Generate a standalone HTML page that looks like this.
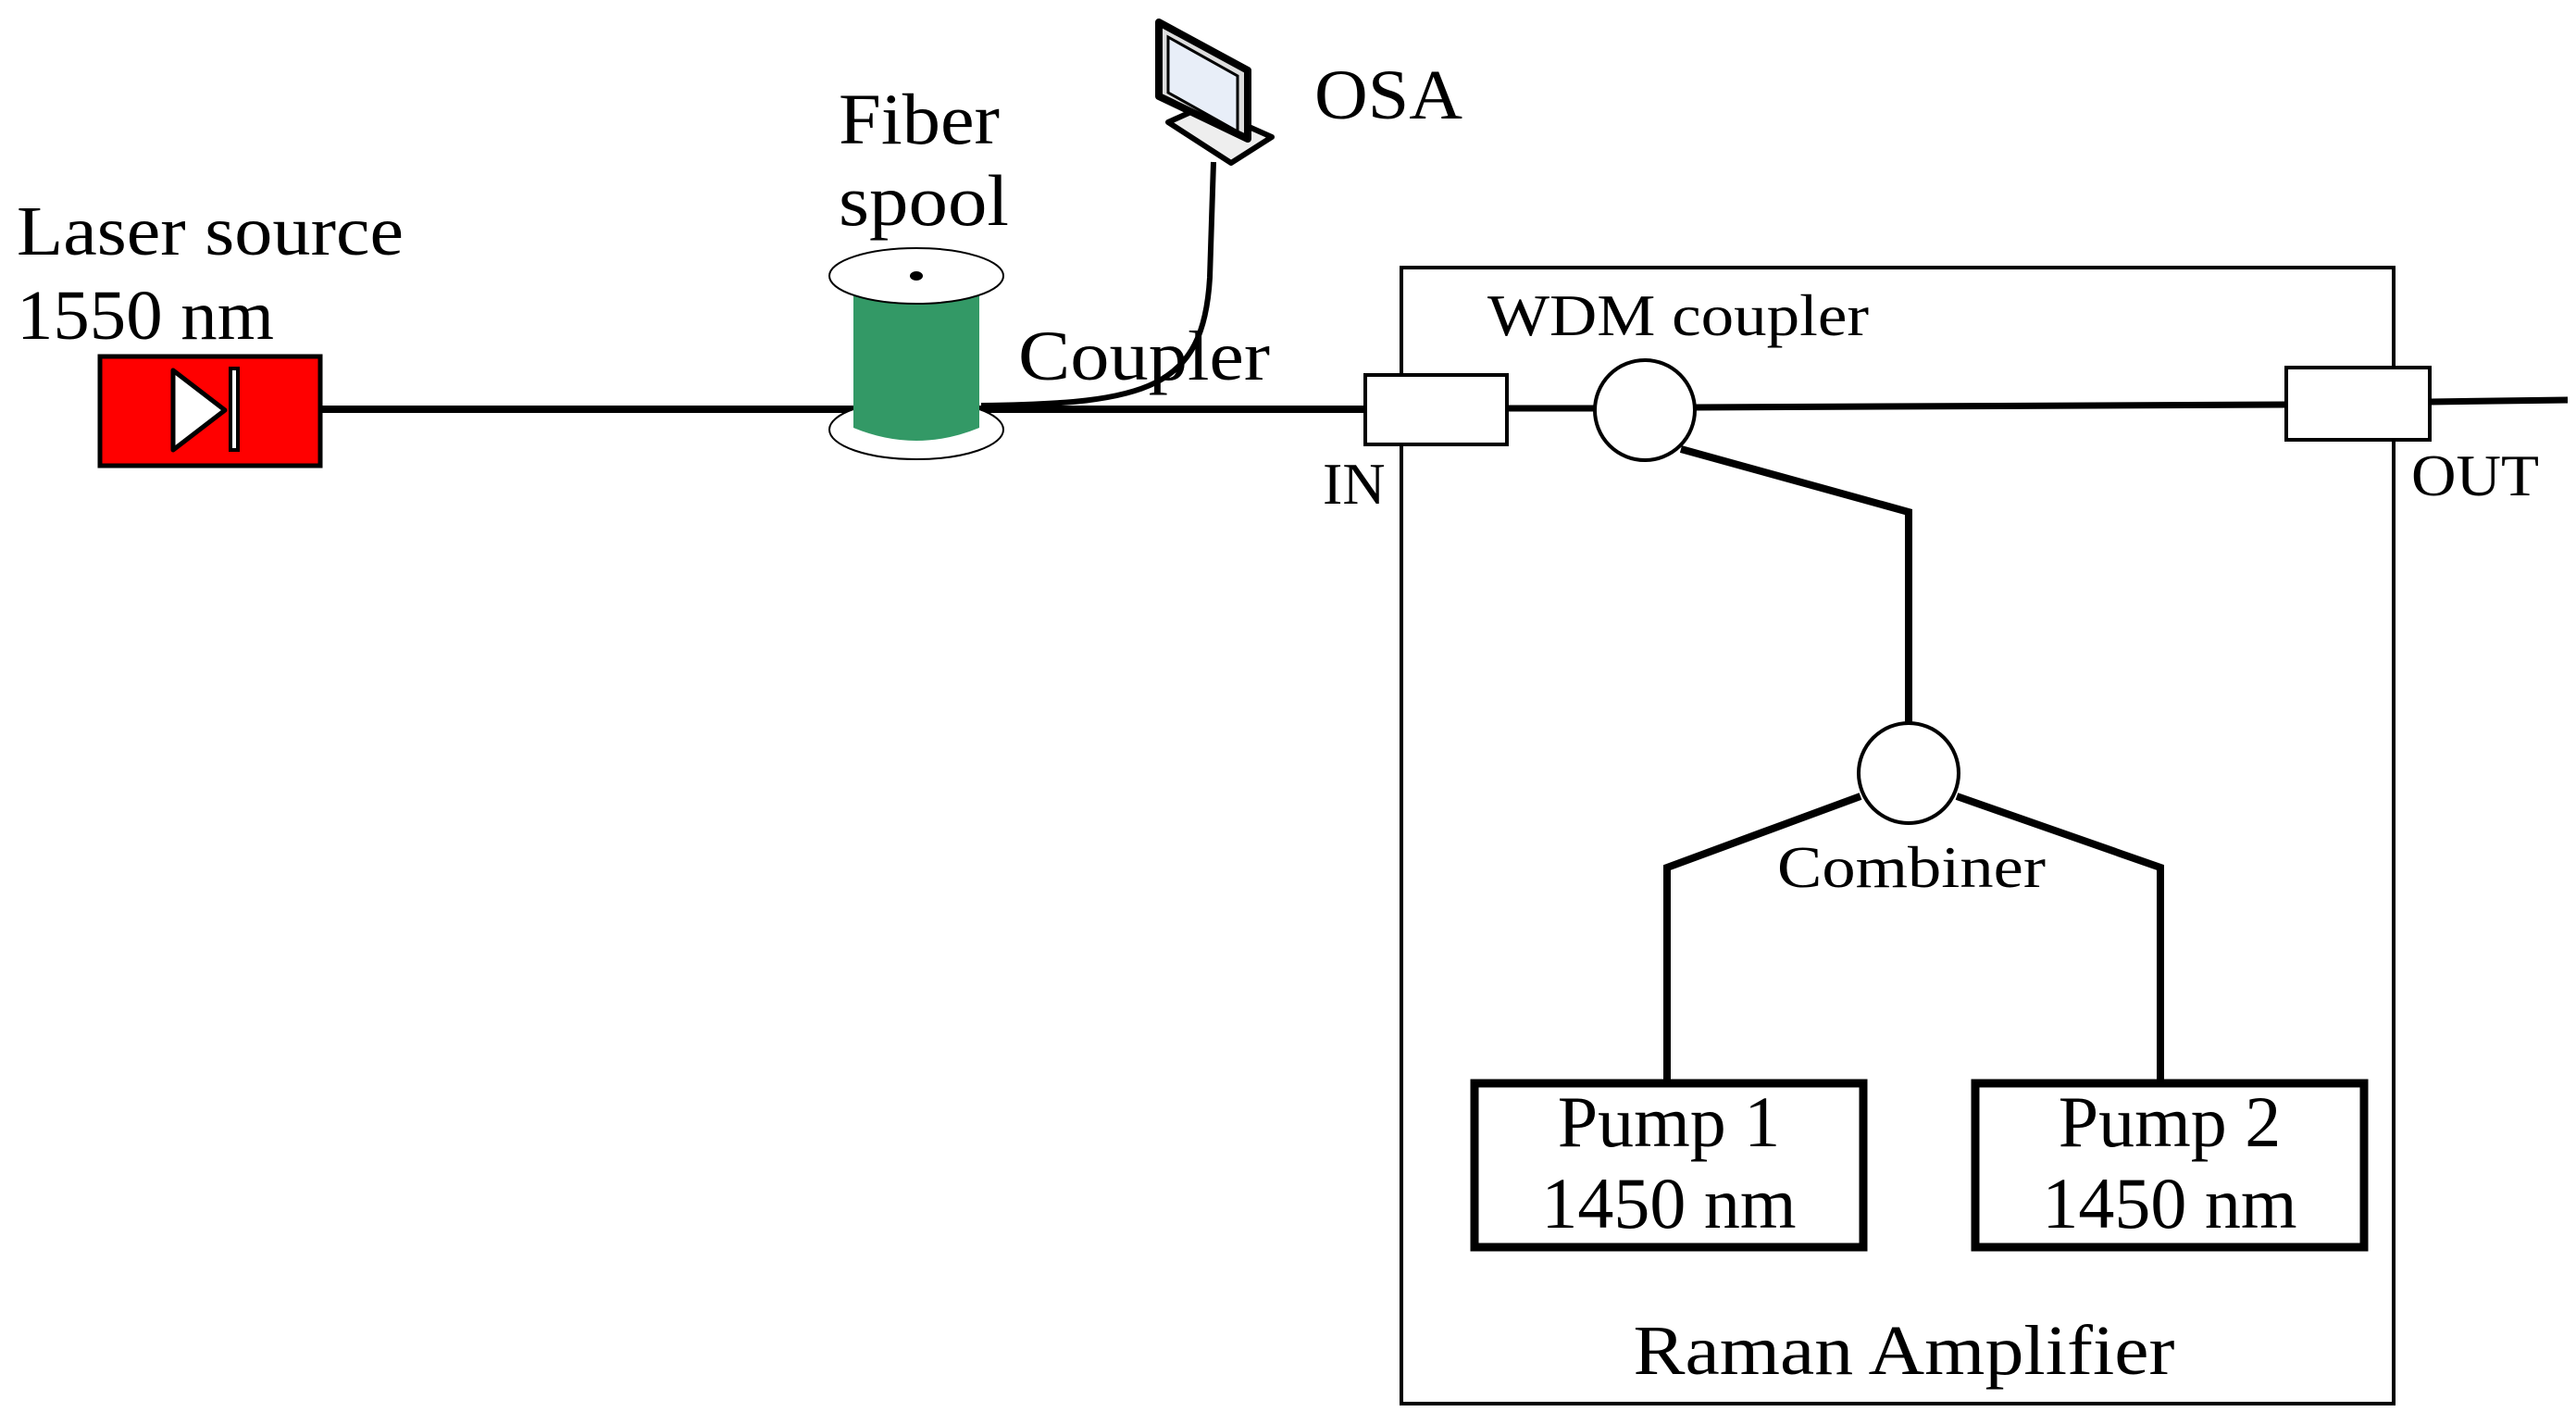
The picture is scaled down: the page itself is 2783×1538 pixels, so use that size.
<!DOCTYPE html>
<html><head><meta charset="utf-8"><style>
html,body{margin:0;padding:0;background:#fff;}
svg{display:block;}
text{font-family:"Liberation Serif",serif;fill:#000;}
</style></head><body>
<svg width="2783" height="1538" viewBox="0 0 2783 1538" xmlns="http://www.w3.org/2000/svg">
<rect width="2783" height="1538" fill="#fff"/>
<!-- Laser -->
<text x="18" y="275" font-size="76" textLength="418" lengthAdjust="spacingAndGlyphs">Laser source</text>
<text x="18" y="366" font-size="76" textLength="278" lengthAdjust="spacingAndGlyphs">1550 nm</text>
<line x1="346" y1="442" x2="1475" y2="442" stroke="#000" stroke-width="8"/>
<rect x="108" y="385" width="238" height="118" fill="#ff0000" stroke="#000" stroke-width="5"/>
<polygon points="187,400 187,486 243,443" fill="#fff" stroke="#000" stroke-width="5" stroke-linejoin="round"/>
<rect x="249" y="398" width="8" height="88" fill="#fff" stroke="#000" stroke-width="4"/>
<!-- Spool -->
<text x="906" y="155" font-size="78" textLength="174" lengthAdjust="spacingAndGlyphs">Fiber</text>
<text x="906" y="243" font-size="78" textLength="184" lengthAdjust="spacingAndGlyphs">spool</text>
<ellipse cx="990" cy="464" rx="94" ry="32" fill="#fff" stroke="#000" stroke-width="2"/>
<path d="M922,312 L922,462 Q990,490 1058,462 L1058,312 Z" fill="#339966"/>
<ellipse cx="990" cy="298" rx="94" ry="30" fill="#fff" stroke="#000" stroke-width="2"/>
<ellipse cx="990" cy="298" rx="7" ry="5" fill="#000"/>
<!-- OSA cable -->
<path d="M1311,175 L1307,300 C1300,420 1240,436 1060,438" fill="none" stroke="#000" stroke-width="6"/>
<text x="1100" y="410" font-size="76" textLength="272" lengthAdjust="spacingAndGlyphs">Coupler</text>
<!-- Monitor -->
<polygon points="1262,132 1300,115 1374,148 1330,176" fill="#eee" stroke="#000" stroke-width="6" stroke-linejoin="round"/>
<polygon points="1252,24 1348,76 1348,150 1252,104" fill="#ddd" stroke="#000" stroke-width="8" stroke-linejoin="round"/>
<polygon points="1262,40 1337,82 1337,142 1262,100" fill="#e8eef8" stroke="#000" stroke-width="3"/>
<text x="1420" y="128" font-size="76" textLength="160" lengthAdjust="spacingAndGlyphs">OSA</text>
<!-- Raman box -->
<rect x="1514" y="289" width="1072" height="1227" fill="none" stroke="#000" stroke-width="4"/>
<text x="1607" y="362" font-size="64" textLength="412" lengthAdjust="spacingAndGlyphs">WDM coupler</text>
<line x1="1626" y1="441" x2="1730" y2="441" stroke="#000" stroke-width="7"/>
<line x1="1830" y1="440" x2="2470" y2="437" stroke="#000" stroke-width="7"/>
<line x1="2625" y1="434" x2="2774" y2="432" stroke="#000" stroke-width="7"/>
<rect x="1475" y="405" width="153" height="75" fill="#fff" stroke="#000" stroke-width="4"/>
<text x="1429" y="544" font-size="64">IN</text>
<rect x="2470" y="397" width="155" height="78" fill="#fff" stroke="#000" stroke-width="4"/>
<text x="2605" y="535" font-size="64" textLength="138" lengthAdjust="spacingAndGlyphs">OUT</text>
<circle cx="1777" cy="443" r="54" fill="#fff" stroke="#000" stroke-width="4"/>
<polyline points="1816,485 2062,553 2062,781" fill="none" stroke="#000" stroke-width="8"/>
<circle cx="2062" cy="835" r="54" fill="#fff" stroke="#000" stroke-width="4"/>
<polyline points="2010,860 1801,937 1801,1168" fill="none" stroke="#000" stroke-width="8"/>
<polyline points="2114,860 2334,937 2334,1168" fill="none" stroke="#000" stroke-width="8"/>
<text x="2065" y="958" font-size="64" text-anchor="middle" textLength="290" lengthAdjust="spacingAndGlyphs">Combiner</text>
<rect x="1593" y="1170" width="420" height="177" fill="#fff" stroke="#000" stroke-width="9"/>
<rect x="2134" y="1170" width="420" height="177" fill="#fff" stroke="#000" stroke-width="9"/>
<text x="1803" y="1238" font-size="78" text-anchor="middle">Pump 1</text>
<text x="1803" y="1326" font-size="78" text-anchor="middle">1450 nm</text>
<text x="2344" y="1238" font-size="78" text-anchor="middle">Pump 2</text>
<text x="2344" y="1326" font-size="78" text-anchor="middle">1450 nm</text>
<text x="2057" y="1484" font-size="76" text-anchor="middle" textLength="585" lengthAdjust="spacingAndGlyphs">Raman Amplifier</text>
</svg>
</body></html>
